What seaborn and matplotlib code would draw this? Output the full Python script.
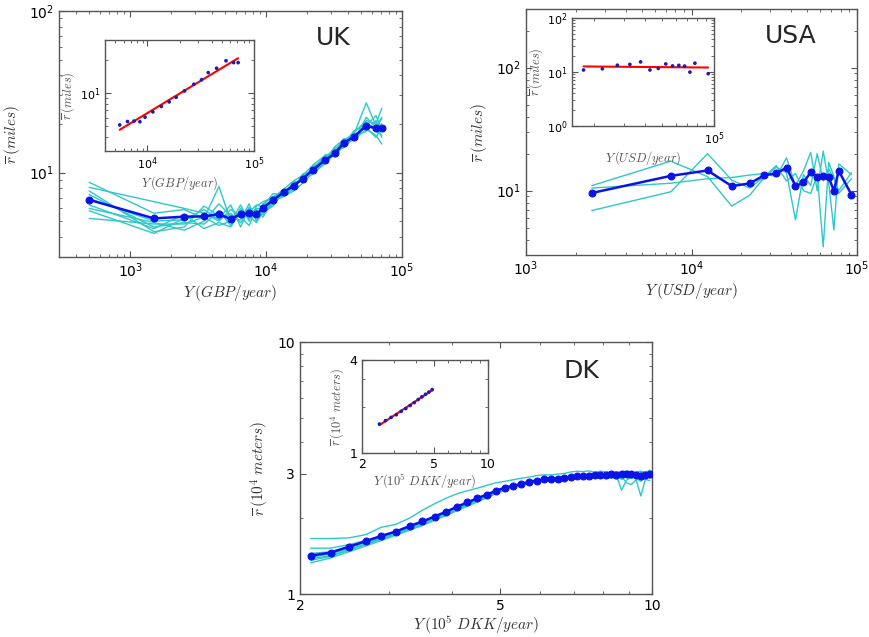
import numpy as np
import pandas as pd
import matplotlib
matplotlib.use("Agg")
import matplotlib.pyplot as plt
import seaborn as sns
from matplotlib.ticker import NullFormatter, FixedLocator, FixedFormatter

# ---------------- data ----------------
# UK (income bins in GBP/year, mean distance in miles)
uk_x = [500, 1500, 2500, 3500, 4500, 5500, 6500, 7500, 8500, 9500, 11250, 13500,
        16000, 18600, 22300, 27300, 32200, 37200, 44600, 54600, 64300, 71000]
uk_mean = [6.78, 5.2, 5.33, 5.35, 5.53, 5.15, 5.53, 5.58, 5.5, 6.05, 6.75, 7.56,
           8.31, 9.14, 10.43, 11.98, 13.15, 15.25, 16.7, 19.5, 18.76, 18.76]
uk_run1 = [8.7, 5.6, 5.9, 5.2, 8.2, 5.0, 6.3, 5.0, 6.2, 6.6, 7.0, 7.9, 8.9, 9.6, 11.2, 12.8, 13.3, 15.8, 17.5, 27.0, 19.5, 21.5]
uk_run2 = [8.1, 6.6, 6.0, 5.6, 5.0, 5.9, 5.4, 6.0, 5.3, 5.8, 6.6, 7.2, 7.9, 9.4, 10.6, 12.3, 14.2, 14.8, 17.8, 21.0, 20.0, 25.0]
uk_run3 = [7.7, 4.3, 4.6, 6.2, 5.4, 5.2, 5.1, 6.4, 5.0, 6.2, 7.4, 7.3, 8.8, 8.8, 9.9, 11.4, 13.7, 16.2, 16.0, 18.5, 17.0, 15.0]
uk_run4 = [7.3, 4.6, 4.9, 4.8, 5.8, 4.7, 6.0, 5.2, 5.7, 5.5, 6.4, 7.8, 8.0, 9.8, 10.2, 12.9, 12.5, 15.0, 18.2, 19.5, 22.5, 18.5]
uk_run5 = [6.9, 5.0, 5.1, 5.9, 5.1, 5.6, 4.9, 5.7, 6.3, 6.1, 6.9, 7.5, 8.5, 9.0, 11.0, 11.8, 13.9, 14.2, 16.5, 20.5, 18.0, 17.0]
uk_run6 = [6.3, 4.5, 5.5, 4.5, 4.9, 4.6, 5.8, 5.4, 4.9, 5.7, 6.2, 7.7, 8.2, 9.3, 10.5, 12.1, 12.9, 15.5, 15.8, 22.0, 19.0, 20.0]
uk_run7 = [6.0, 4.9, 4.4, 5.0, 6.4, 5.4, 5.3, 4.7, 5.9, 5.3, 6.7, 7.1, 7.7, 8.6, 10.1, 11.5, 13.0, 14.5, 16.8, 18.0, 21.0, 16.5]
uk_run8 = [5.8, 4.2, 5.2, 5.4, 5.2, 6.3, 4.6, 6.1, 5.4, 6.4, 7.1, 7.6, 8.6, 9.1, 10.8, 12.5, 13.5, 15.2, 17.2, 19.0, 16.5, 19.0]
uk_run9 = [5.2, 4.8, 4.8, 5.3, 4.7, 5.0, 5.6, 5.5, 6.0, 5.9, 6.5, 7.4, 8.1, 9.5, 10.4, 12.0, 14.5, 16.0, 16.2, 20.0, 18.5, 22.0]
uk_inset_start = 5

# USA (USD/year, miles)
usa_x = [2500, 7500, 12500, 17500, 22500, 27500, 32500, 37500, 42500, 47500,
         52500, 57500, 62500, 67500, 72500, 77500, 92500]
usa_mean = [9.58, 13.2, 14.6, 10.9, 11.46, 13.35, 13.85, 15.38, 10.9, 11.67,
            14.1, 12.95, 13.27, 12.87, 9.95, 14.55, 9.3]
usa_run1 = [11.0, 17.4, 13.0, 7.5, 9.2, 12.8, 15.5, 14.0, 5.8, 13.5, 11.0, 20.0, 12.0, 15.0, 12.5, 10.0, 14.0]
usa_run2 = [10.5, 11.5, 12.5, 12.8, 13.4, 13.8, 13.0, 18.5, 11.0, 14.5, 20.5, 10.0, 21.0, 11.5, 4.8, 16.5, 13.5]
usa_run3 = [6.9, 9.8, 20.0, 12.2, 10.5, 13.0, 16.0, 12.0, 13.8, 10.0, 9.5, 13.5, 3.5, 17.0, 13.0, 9.5, 12.5]
usa_inset_start = 3

# DK (10^5 DKK/year, 10^4 meters)
dk_x = [2.1, 2.3, 2.5, 2.7, 2.9, 3.1, 3.3, 3.5, 3.7, 3.9, 4.1, 4.3, 4.5, 4.7,
        4.9, 5.1, 5.3, 5.5, 5.7, 5.9, 6.1, 6.3, 6.5, 6.7, 6.9, 7.1, 7.3, 7.5,
        7.7, 7.9, 8.1, 8.3, 8.5, 8.7, 8.9, 9.1, 9.3, 9.5, 9.7, 9.9]
dk_mean = [1.42, 1.46, 1.54, 1.62, 1.70, 1.77, 1.86, 1.94, 2.03, 2.12, 2.22, 2.31,
           2.40, 2.48, 2.57, 2.64, 2.69, 2.73, 2.79, 2.82, 2.85, 2.86, 2.87, 2.89,
           2.92, 2.93, 2.95, 2.94, 2.96, 2.97, 2.96, 2.98, 2.97, 2.99, 2.98, 2.98,
           2.96, 2.95, 2.97, 2.98]
dk_run1 = [1.66, 1.66, 1.67, 1.72, 1.84, 1.89, 2.00, 2.15, 2.28, 2.40, 2.50, 2.57, 2.63, 2.70, 2.76, 2.80, 2.84, 2.88, 2.91, 2.95,
           2.97, 2.97, 2.99, 3.01, 3.05, 3.07, 3.06, 3.08, 3.04, 3.07, 3.05, 3.03, 3.06, 3.04, 3.08, 3.02, 3.05, 3.07, 3.04, 3.10]
dk_run2 = [1.52, 1.52, 1.57, 1.63, 1.70, 1.76, 1.84, 1.92, 2.01, 2.10, 2.19, 2.28, 2.36, 2.44, 2.53, 2.62, 2.68, 2.74, 2.78, 2.82,
           2.85, 2.87, 2.89, 2.91, 2.94, 2.96, 2.97, 2.99, 3.01, 2.98, 3.02, 3.00, 2.97, 3.03, 2.95, 3.01, 2.92, 3.00, 3.04, 2.96]
dk_run3 = [1.45, 1.47, 1.54, 1.61, 1.68, 1.75, 1.83, 1.92, 2.01, 2.10, 2.19, 2.29, 2.37, 2.46, 2.55, 2.63, 2.69, 2.74, 2.78, 2.80,
           2.83, 2.85, 2.86, 2.89, 2.90, 2.92, 2.93, 2.91, 2.94, 2.96, 2.92, 2.97, 2.90, 2.99, 2.93, 2.87, 2.96, 2.91, 2.97, 2.93]
dk_run4 = [1.40, 1.44, 1.52, 1.60, 1.67, 1.74, 1.83, 1.91, 2.00, 2.08, 2.17, 2.27, 2.35, 2.45, 2.53, 2.61, 2.67, 2.71, 2.76, 2.79,
           2.82, 2.84, 2.85, 2.87, 2.88, 2.90, 2.91, 2.93, 2.90, 2.95, 2.92, 2.88, 2.96, 2.85, 2.92, 2.98, 2.88, 2.80, 2.94, 2.90]
dk_run5 = [1.38, 1.42, 1.50, 1.58, 1.66, 1.73, 1.81, 1.89, 1.98, 2.07, 2.16, 2.25, 2.34, 2.43, 2.52, 2.60, 2.66, 2.71, 2.75, 2.78,
           2.81, 2.83, 2.84, 2.86, 2.88, 2.89, 2.90, 2.92, 2.94, 2.90, 2.87, 2.93, 2.95, 2.58, 2.83, 2.90, 2.95, 2.86, 2.91, 2.88]
dk_run6 = [1.36, 1.41, 1.49, 1.57, 1.65, 1.72, 1.80, 1.88, 1.97, 2.06, 2.15, 2.24, 2.33, 2.42, 2.51, 2.59, 2.66, 2.72, 2.77, 2.80,
           2.83, 2.86, 2.88, 2.90, 2.93, 2.95, 2.97, 2.96, 2.99, 3.02, 2.97, 3.00, 3.04, 2.98, 3.02, 2.94, 3.00, 3.03, 2.97, 3.05]
dk_run7 = [1.33, 1.39, 1.47, 1.55, 1.63, 1.71, 1.79, 1.87, 1.96, 2.05, 2.14, 2.23, 2.32, 2.41, 2.50, 2.58, 2.65, 2.70, 2.75, 2.79,
           2.82, 2.84, 2.85, 2.87, 2.89, 2.91, 2.92, 2.90, 2.93, 2.88, 2.93, 2.91, 2.86, 2.92, 2.76, 2.72, 2.84, 2.45, 2.85, 2.82]
dk_inset_start, dk_inset_end = 2, 15

# ---------------- style ----------------
sns.set_style("white")
plt.rcParams.update({
    "font.family": ["DejaVu Sans"],
    "mathtext.fontset": "cm",
    "axes.edgecolor": "#555555",
    "axes.linewidth": 1.0,
    "xtick.direction": "in",
    "ytick.direction": "in",
    "xtick.top": True,
    "ytick.right": True,
    "xtick.bottom": True,
    "ytick.left": True,
    "xtick.color": "#555555",
    "ytick.color": "#555555",
    "xtick.labelcolor": "black",
    "ytick.labelcolor": "black",
    "xtick.major.size": 4,
    "ytick.major.size": 4,
    "xtick.minor.size": 2,
    "ytick.minor.size": 2,
    "axes.grid": False,
})

W, H = 869, 637
fig = plt.figure(figsize=(W / 100, H / 100), dpi=100)


def rect(left, top, right, bottom):
    return [left / W, 1 - bottom / H, (right - left) / W, (bottom - top) / H]


CYAN = "#2ec8c8"
BLUE = "#0a14e6"
LBL = "#333333"
ILBL = "#555555"


def draw_runs(ax, x, runs):
    df = pd.DataFrame({
        "x": np.tile(x, len(runs)),
        "y": np.concatenate(runs),
        "run": np.repeat(np.arange(len(runs)), len(x)),
    })
    sns.lineplot(data=df, x="x", y="y", units="run", estimator=None, sort=False,
                 color=CYAN, lw=1.0, ax=ax, legend=False)


def draw_mean(ax, x, y):
    sns.lineplot(x=x, y=y, color=BLUE, lw=1.8, marker="o", markersize=5,
                 markeredgecolor=BLUE, markerfacecolor=BLUE, ax=ax, sort=False,
                 estimator=None, zorder=5)


def draw_inset(ax, x, y):
    x = np.asarray(x, float)
    y = np.asarray(y, float)
    sns.scatterplot(x=x, y=y, color="#1a1ab4", s=7, edgecolor="none", ax=ax,
                    zorder=4, legend=False)
    k, b = np.polyfit(np.log10(x), np.log10(y), 1)
    xf = np.array([x.min(), x.max()])
    sns.lineplot(x=xf, y=10 ** (b + k * np.log10(xf)), color="red", lw=1.5,
                 ax=ax, zorder=3)


def finish_log(ax, fs=10):
    ax.set_xscale("log")
    ax.set_yscale("log")
    ax.xaxis.set_minor_formatter(NullFormatter())
    ax.yaxis.set_minor_formatter(NullFormatter())
    ax.tick_params(which="both", direction="in", top=True, right=True)
    ax.tick_params(which="major", labelsize=fs)


MAINFS = 11
INFS = 9

# ---------------- UK ----------------
ax = fig.add_axes(rect(59, 11, 402, 257))
draw_runs(ax, uk_x, [uk_run1, uk_run2, uk_run3, uk_run4, uk_run5,
                     uk_run6, uk_run7, uk_run8, uk_run9])
draw_mean(ax, uk_x, uk_mean)
finish_log(ax)
ax.set_xlim(300, 1e5)
ax.set_ylim(3, 100)
ax.set_xlabel(r"$Y\,(GBP/year)$", fontsize=MAINFS, color=LBL, labelpad=2)
ax.set_ylabel(r"$\overline{r}\,(miles)$", fontsize=MAINFS, color=LBL, labelpad=5)
ax.text(0.80, 0.89, "UK", transform=ax.transAxes, fontsize=18, ha="center", va="center")

axi = fig.add_axes(rect(105, 40, 254, 151))
draw_inset(axi, uk_x[uk_inset_start:], uk_mean[uk_inset_start:])
finish_log(axi, fs=8)
axi.set_xlim(4000, 1e5)
axi.set_ylim(3, 30)
axi.set_xlabel(r"$Y\,(GBP/year)$", fontsize=INFS, color=ILBL, labelpad=1)
axi.set_ylabel(r"$\overline{r}\,(miles)$", fontsize=INFS, color=ILBL, labelpad=2)

# ---------------- USA ----------------
ax = fig.add_axes(rect(526, 9, 857, 255))
draw_runs(ax, usa_x, [usa_run1, usa_run2, usa_run3])
draw_mean(ax, usa_x, usa_mean)
finish_log(ax)
ax.set_xlim(1e3, 1e5)
ax.set_ylim(3, 300)
ax.set_xlabel(r"$Y\,(USD/year)$", fontsize=MAINFS, color=LBL, labelpad=2)
ax.set_ylabel(r"$\overline{r}\,(miles)$", fontsize=MAINFS, color=LBL, labelpad=5)
ax.text(0.80, 0.89, "USA", transform=ax.transAxes, fontsize=18, ha="center", va="center")

axi = fig.add_axes(rect(572, 18, 714, 126))
draw_inset(axi, usa_x[usa_inset_start:], usa_mean[usa_inset_start:])
finish_log(axi, fs=8)
axi.set_xlim(15000, 1e5)
axi.set_ylim(1, 100)
axi.set_xlabel(r"$Y\,(USD/year)$", fontsize=INFS, color=ILBL, labelpad=1)
axi.set_ylabel(r"$\overline{r}\,(miles)$", fontsize=INFS, color=ILBL, labelpad=1)

# ---------------- DK ----------------
ax = fig.add_axes(rect(300, 342, 652, 594))
draw_runs(ax, dk_x, [dk_run1, dk_run2, dk_run3, dk_run4, dk_run5, dk_run6, dk_run7])
draw_mean(ax, dk_x, dk_mean)
finish_log(ax)
ax.set_xlim(2, 10)
ax.set_ylim(1, 10)
ax.xaxis.set_major_locator(FixedLocator([2, 5, 10]))
ax.xaxis.set_major_formatter(FixedFormatter(["2", "5", "10"]))
ax.yaxis.set_major_locator(FixedLocator([1, 3, 10]))
ax.yaxis.set_major_formatter(FixedFormatter(["1", "3", "10"]))
ax.set_xlabel(r"$Y\,(10^5\ DKK/year)$", fontsize=MAINFS, color=LBL, labelpad=1)
ax.set_ylabel(r"$\overline{r}\,(10^4\ meters)$", fontsize=MAINFS, color=LBL, labelpad=5)
ax.text(0.80, 0.886, "DK", transform=ax.transAxes, fontsize=18, ha="center", va="center")

axi = fig.add_axes(rect(362, 360, 488, 453))
draw_inset(axi, dk_x[dk_inset_start:dk_inset_end], dk_mean[dk_inset_start:dk_inset_end])
finish_log(axi, fs=9)
axi.set_xlim(2, 10)
axi.set_ylim(1, 4)
axi.xaxis.set_major_locator(FixedLocator([2, 5, 10]))
axi.xaxis.set_major_formatter(FixedFormatter(["2", "5", "10"]))
axi.yaxis.set_major_locator(FixedLocator([1, 4]))
axi.yaxis.set_major_formatter(FixedFormatter(["1", "4"]))
axi.set_xlabel(r"$Y\,(10^5\ DKK/year)$", fontsize=INFS, color=ILBL, labelpad=1)
axi.set_ylabel(r"$\overline{r}\,(10^4\ meters)$", fontsize=INFS, color=ILBL, labelpad=2)

fig.savefig("out.png", dpi=100)
